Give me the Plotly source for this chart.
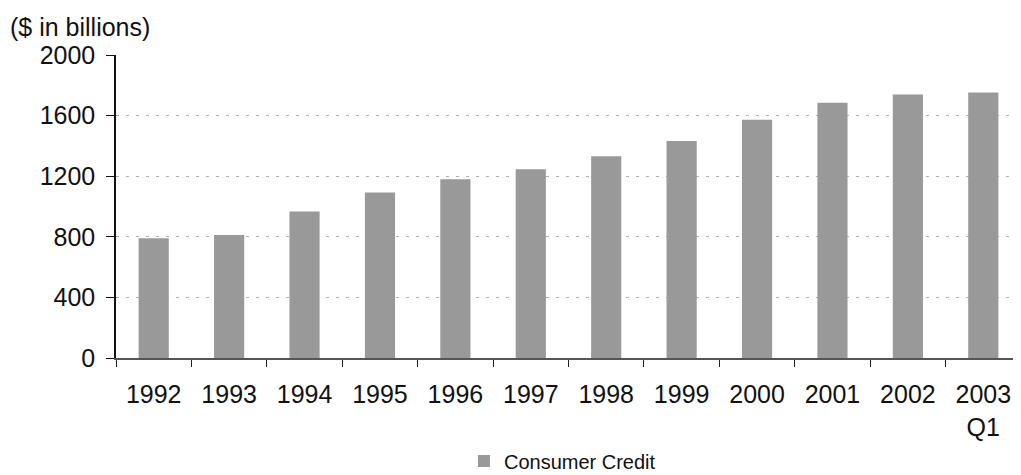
import plotly.graph_objects as go

years = ["1992", "1993", "1994", "1995", "1996", "1997", "1998", "1999",
         "2000", "2001", "2002", "2003"]
tick_labels = ["1992", "1993", "1994", "1995", "1996", "1997", "1998", "1999",
               "2000", "2001", "2002", "2003<br>Q1"]
consumer_credit = [791, 813, 967, 1093, 1180, 1247, 1333, 1433, 1573, 1685, 1740, 1753]
y_ticks = [0, 400, 800, 1200, 1600, 2000]

FONT = "Liberation Sans, Arial, Helvetica, sans-serif"
TXT = "#111111"

fig = go.Figure()
fig.add_trace(go.Bar(
    x=years, y=consumer_credit, name="Consumer Credit",
    marker=dict(color="#999999", line=dict(width=0)),
))

fig.add_annotation(
    text="($ in billions)", xref="paper", yref="paper",
    x=(8 - 116) / 905, xanchor="left", y=1 + 28 / 303, yanchor="middle",
    showarrow=False, font=dict(family=FONT, size=25, color=TXT),
)

# page body adds an 8px offset, so the figure is laid out 8px smaller
fig.update_layout(
    width=1013, height=467,
    margin=dict(l=108, r=0, t=47, b=117, autoexpand=False),
    plot_bgcolor="white", paper_bgcolor="white",
    bargap=0.6,
    font=dict(family=FONT, size=25, color=TXT),
    showlegend=True,
    legend=dict(orientation="h", x=0.4933, xanchor="center", y=-0.34, yanchor="middle",
                font=dict(family=FONT, size=20, color=TXT)),
    xaxis=dict(type="category", tickmode="array", tickvals=years, ticktext=tick_labels,
               showline=True, linecolor="#555555", linewidth=2,
               ticks="outside", tickson="boundaries", ticklen=7, tickcolor="#222222",
               ticklabelstandoff=13, automargin=False,
               showgrid=False, range=[-0.5, 11.5]),
    yaxis=dict(range=[0, 2001], tickmode="array", tickvals=y_ticks,
               showline=True, linecolor="#111111", linewidth=1.5,
               ticks="outside", ticklen=8, tickcolor="#111111",
               ticklabelstandoff=6, automargin=False,
               showgrid=True, gridcolor="#b0b0b0", griddash="3px,7px", gridwidth=1,
               zeroline=False),
)

fig.write_html("out.html")
